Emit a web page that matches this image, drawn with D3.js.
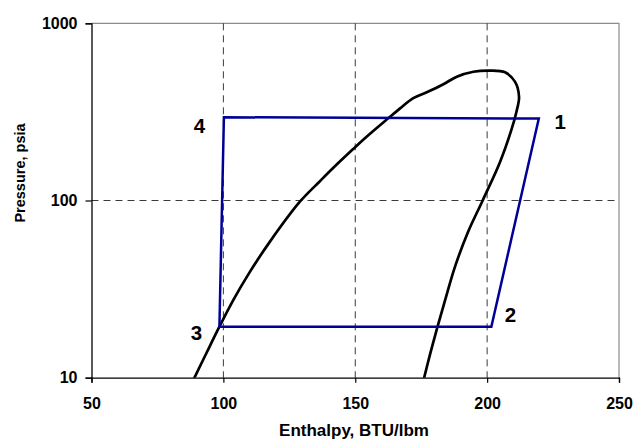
<!DOCTYPE html>
<html>
<head>
<meta charset="utf-8">
<script src="https://cdn.jsdelivr.net/npm/d3@7"></script>
<style>
  html, body { margin: 0; padding: 0; background: #fff; }
  svg { display: block; font-family: Arial, "Liberation Sans", sans-serif; }
</style>
</head>
<body>
<svg id="chart" width="635" height="439"></svg>
<script>
// Saturation dome of the refrigerant: enthalpy (BTU/lbm) and pressure (psia),
// traced from the saturated-liquid side over the top to the saturated-vapour side
const domeH = [88.6, 93.5, 98.5, 103.8, 109.7, 117.2, 129.0, 136.4, 141.5, 149.1, 154.3, 162.5, 167.0, 172.0, 177.1, 183.4, 188.5, 194.8, 201.1, 206.8, 210.6, 212.1, 211.1, 209.4, 204.9, 198.4, 192.6, 187.8, 184.4, 181.2, 178.5, 175.9];
const domeP = [9.7, 13.7, 19.4, 27.5, 38.8, 57.3, 98.4, 127.6, 152, 194.5, 229, 291, 331, 378, 408, 453, 500, 533, 541, 529, 467, 384, 316, 256, 165, 100.7, 65.6, 42.2, 28.5, 19.4, 13.8, 9.7];

// Vapour-compression cycle state points 1-2-3-4
const cycleLabels = ["1", "2", "3", "4"];
const cycleH = [219.6, 201.6, 98.5, 100.2];
const cycleP = [290, 19.4, 19.4, 295];

// Axis ticks and grid positions
const xTicks = [50, 100, 150, 200, 250];
const yTicks = [10, 100, 1000];
const xGrid = [100, 150, 200];
const yGrid = [100];

const svg = d3.select("#chart");
const L = 91.5, R = 619, T = 23.3, B = 377.7;

const x = d3.scaleLinear().domain([50, 250]).range([L, R]);
const y = d3.scaleLog().domain([10, 1000]).range([B, T]);

svg.append("defs").append("clipPath").attr("id", "plotClip")
  .append("rect").attr("x", L).attr("y", T).attr("width", R - L).attr("height", B - T);

// Frame: gray top/right edges
svg.append("path")
  .attr("d", `M${L},${T}H${R}V${B}`)
  .attr("fill", "none").attr("stroke", "#8c8c8c").attr("stroke-width", 1.2);

// Dashed grid lines
const gridStyle = sel => sel.attr("stroke", "#3a3a3a").attr("stroke-width", 1).attr("stroke-dasharray", "7,5");
svg.selectAll(".vgrid").data(xGrid).enter().append("line")
  .attr("x1", d => x(d)).attr("x2", d => x(d)).attr("y1", T).attr("y2", B)
  .call(gridStyle);
svg.selectAll(".hgrid").data(yGrid).enter().append("line")
  .attr("x1", L).attr("x2", R).attr("y1", d => y(d)).attr("y2", d => y(d))
  .call(gridStyle);

// Axes
const xAxis = svg.append("g").attr("transform", `translate(0,${B})`)
  .call(d3.axisBottom(x).tickValues(xTicks).tickSize(5).tickPadding(15).tickFormat(d3.format("d")));
const yAxis = svg.append("g").attr("transform", `translate(${L},0)`)
  .call(d3.axisLeft(y).tickValues(yTicks).tickSize(6).tickPadding(8).tickFormat(d3.format("d")));
[xAxis, yAxis].forEach(g => {
  g.select(".domain").attr("stroke", "#000").attr("stroke-width", 1.3);
  g.selectAll(".tick line").attr("stroke", "#000").attr("stroke-width", 1.2);
  g.selectAll("text").attr("font-size", 16).attr("font-weight", "bold").attr("fill", "#000")
    .attr("font-family", "Arial, 'Liberation Sans', sans-serif");
});

// Axis titles
svg.append("text").attr("x", 354).attr("y", 436)
  .attr("text-anchor", "middle").attr("font-size", 17).attr("font-weight", "bold")
  .text("Enthalpy, BTU/lbm");
svg.append("text").attr("transform", "translate(25,173) rotate(-90)")
  .attr("text-anchor", "middle").attr("font-size", 14.5).attr("font-weight", "bold")
  .text("Pressure, psia");

const plot = svg.append("g").attr("clip-path", "url(#plotClip)");

// Saturation dome
const dome = domeH.map((h, i) => [h, domeP[i]]);
plot.append("path")
  .attr("d", d3.line().x(d => x(d[0])).y(d => y(d[1])).curve(d3.curveCatmullRom.alpha(0.5))(dome))
  .attr("fill", "none").attr("stroke", "#000").attr("stroke-width", 2.7)
  .attr("stroke-linejoin", "round").attr("stroke-linecap", "round");

// Cycle polygon
const cycle = cycleH.map((h, i) => [h, cycleP[i]]);
svg.append("path")
  .attr("d", d3.line().x(d => x(d[0])).y(d => y(d[1]))(cycle) + "Z")
  .attr("fill", "none").attr("stroke", "#000096").attr("stroke-width", 2.5)
  .attr("stroke-linejoin", "miter");

// State point labels
const labelOffsets = [[21.5, 10], [19, -5], [-23, 13.5], [-24.5, 16]];
svg.selectAll(".pt").data(cycle).enter().append("text")
  .attr("x", (d, i) => x(d[0]) + labelOffsets[i][0])
  .attr("y", (d, i) => y(d[1]) + labelOffsets[i][1])
  .attr("text-anchor", "middle").attr("font-size", 20.5).attr("font-weight", "bold")
  .text((d, i) => cycleLabels[i]);
</script>
</body>
</html>
